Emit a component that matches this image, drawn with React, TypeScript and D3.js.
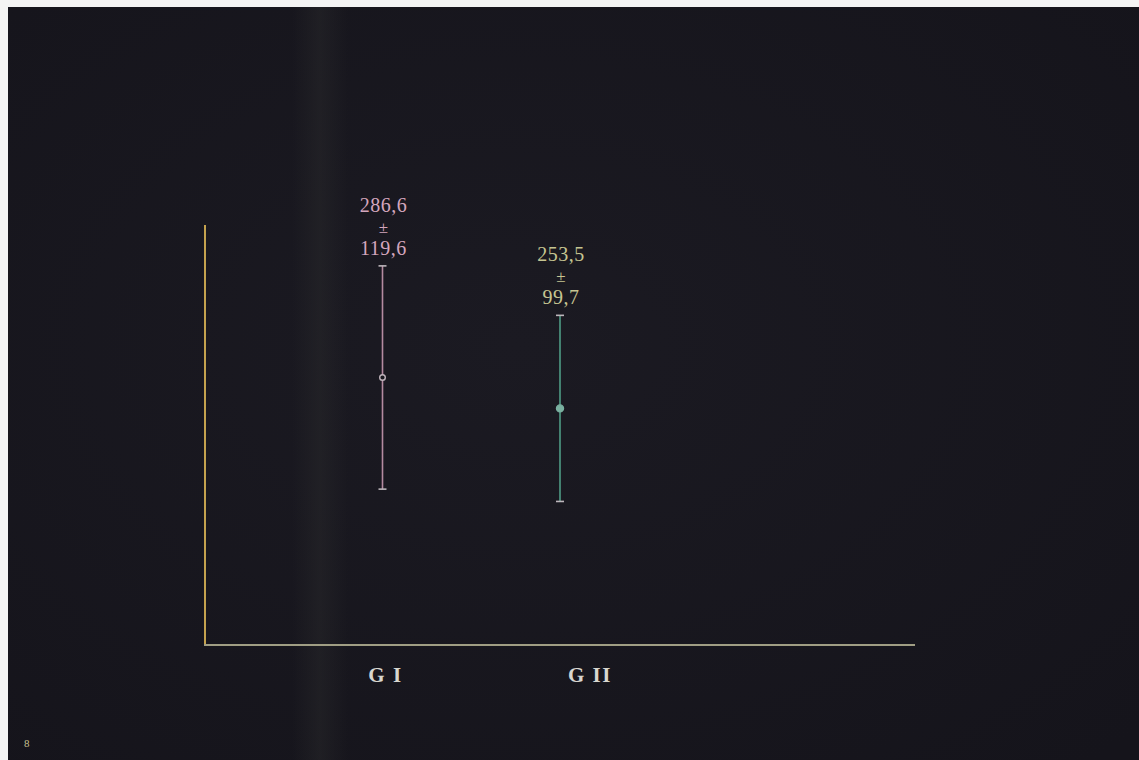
import React from "react";
import * as d3 from "d3";

const groups = ["G I", "G II"];
const means = [286.6, 253.5];
const sds = [119.6, 99.7];
const meanLabels = ["286,6", "253,5"];
const sdLabels = ["119,6", "99,7"];
const yTicks = [0, 450];

const W = 1139;
const H = 760;

const barColors = ["#b48aa0", "#4f9c86"];
const textColors = ["#d4a6bd", "#c6c592"];
const markerColors = ["#c0b4bc", "#7ab0a0"];
const labelOffsets = [3, 30];

export default function App() {
  const x = d3.scalePoint<string>().domain(["", ...groups, " ", "  "]).range([205, 915]);
  const y = d3.scaleLinear().domain([yTicks[0], yTicks[1]]).range([645, 225]);
  const capW = 4;
  const font = "'Liberation Serif', 'DejaVu Serif', serif";

  return (
    <div style={{ position: "fixed", left: 0, top: 0, width: W, height: H }}>
      <svg width={W} height={H} style={{ display: "block" }}>
        <defs>
          <linearGradient id="band" x1="0" x2="1" y1="0" y2="0">
            <stop offset="0" stopColor="#2a2a2c" stopOpacity="0" />
            <stop offset="0.5" stopColor="#2a2a2c" stopOpacity="0.45" />
            <stop offset="1" stopColor="#2a2a2c" stopOpacity="0" />
          </linearGradient>
          <radialGradient id="vig" cx="0.45" cy="0.45" r="0.75">
            <stop offset="0" stopColor="#1b1a22" />
            <stop offset="1" stopColor="#15141b" />
          </radialGradient>
        </defs>
        <rect x={0} y={0} width={W} height={H} fill="#f4f4f4" />
        <rect x={8} y={7} width={W - 8} height={H - 7} fill="url(#vig)" />
        <rect x={292} y={7} width={56} height={H - 7} fill="url(#band)" />

        {/* axes */}
        <line x1={205} x2={205} y1={y(yTicks[1])} y2={y(0)} stroke="#c4a24e" strokeWidth={2} />
        <line x1={204} x2={915} y1={y(0)} y2={y(0)} stroke="#a09e84" strokeWidth={2} />

        {groups.map((g, i) => {
          const cx = x(g) as number;
          const top = y(means[i] + sds[i]);
          const bot = y(means[i] - sds[i]);
          const my = y(means[i]);
          return (
            <g key={g}>
              <line x1={cx} x2={cx} y1={top} y2={bot} stroke={barColors[i]} strokeWidth={1.6} />
              <line x1={cx - capW} x2={cx + capW} y1={top} y2={top} stroke="#bdb6bc" strokeWidth={1.6} />
              <line x1={cx - capW} x2={cx + capW} y1={bot} y2={bot} stroke="#bdb6bc" strokeWidth={1.6} />
              <circle cx={cx} cy={my} r={i === 0 ? 2.8 : 3.5} fill={i === 0 ? "#1a1920" : markerColors[i]} stroke={markerColors[i]} strokeWidth={1.4} />
              <g fill={textColors[i]} fontFamily={font} textAnchor="middle">
                <text x={cx + 1} y={top - 54} fontSize={20} letterSpacing={0.5}>{meanLabels[i]}</text>
                <text x={cx + 1} y={top - 33} fontSize={17}>±</text>
                <text x={cx + 1} y={top - 11} fontSize={20} letterSpacing={0.5}>{sdLabels[i]}</text>
              </g>
              <text x={cx + labelOffsets[i]} y={682} fill="#d8d6d0" fontFamily={font} fontSize={21} fontWeight="bold" letterSpacing={1.5} textAnchor="middle">
                {g}
              </text>
            </g>
          );
        })}

        <text x={24} y={747} fill="#c8c090" fontFamily={font} fontSize={11}>8</text>
      </svg>
    </div>
  );
}
